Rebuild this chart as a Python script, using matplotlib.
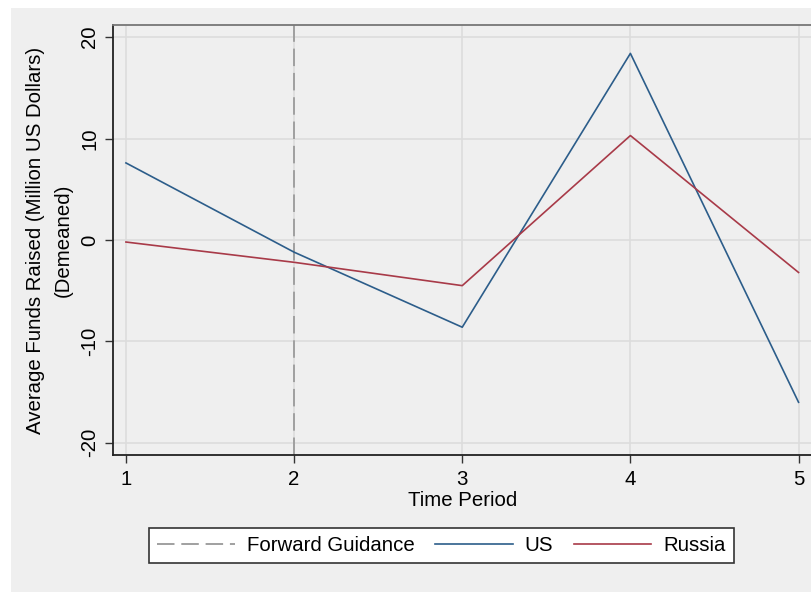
import matplotlib
matplotlib.use('Agg')
from matplotlib import pyplot as plt
from matplotlib.patches import Rectangle

plt.rcParams['font.family'] = ['Liberation Sans', 'DejaVu Sans']

periods = [1, 2, 3, 4, 5]
us = [7.6, -1.2, -8.6, 18.4, -16.0]
russia = [-0.2, -2.2, -4.5, 10.3, -3.2]
yticks = [-20, -10, 0, 10, 20]
guidance_x = 2

W, H = 811, 592
bg = '#efefef'
fs = 14.7
fig = plt.figure(figsize=(W / 100, H / 100), dpi=100, facecolor='white')
fig.patches.append(Rectangle((11 / W, 0), 1, 1 - 8 / H, transform=fig.transFigure,
                             facecolor=bg, edgecolor='none', zorder=-10))

# axes box in pixels: left 113, right ~812, top 25, bottom 455
ax = fig.add_axes([113 / W, 1 - 455 / H, (812 - 113) / W, (455 - 25) / H])
ax.set_facecolor(bg)

ax.plot(periods, us, color='#2c5d8a', lw=1.2, label='US', zorder=3)
ax.plot(periods, russia, color='#a83a48', lw=1.2, label='Russia', zorder=3)
ax.axvline(guidance_x, color='#a0a0a0', lw=1.4, ls=(0, (9, 3.5)),
           label='Forward Guidance', zorder=2)

ax.set_xlim(0.923, 5.08)
ax.set_ylim(-21.2, 21.2)
ax.set_xticks(periods)
ax.set_xticklabels([str(p) for p in periods])
ax.set_yticks(yticks)
ax.set_yticklabels([str(t) for t in yticks], rotation=90, va='center')
ax.grid(True, color='#dcdcdc', lw=1.2)
ax.set_axisbelow(True)
ax.tick_params(axis='both', labelsize=fs, length=6, width=1, color='#333333', pad=4)
ax.tick_params(axis='x', pad=5)

for s in ['left', 'bottom']:
    ax.spines[s].set_color('#222222')
    ax.spines[s].set_linewidth(1.3)
ax.spines['top'].set_color('#777777')
ax.spines['top'].set_linewidth(1.3)
ax.spines['right'].set_visible(False)

ax.set_xlabel('Time Period', fontsize=fs, labelpad=1)
ax.set_ylabel('Average Funds Raised (Million US Dollars)\n(Demeaned)', fontsize=fs,
              labelpad=5, linespacing=1.6)

h, l = ax.get_legend_handles_labels()
order = [2, 0, 1]
leg = fig.legend([h[i] for i in order], [l[i] for i in order], ncol=3,
                 loc='center', bbox_to_anchor=(441.5 / W, 1 - 545.5 / H),
                 fontsize=fs, frameon=True, fancybox=False, edgecolor='#333333',
                 facecolor='white', framealpha=1, handlelength=3.8,
                 columnspacing=1.0, handletextpad=0.6, borderpad=0.4)
leg.get_frame().set_linewidth(1.2)

fig.savefig('out.png', dpi=100, facecolor='white')
